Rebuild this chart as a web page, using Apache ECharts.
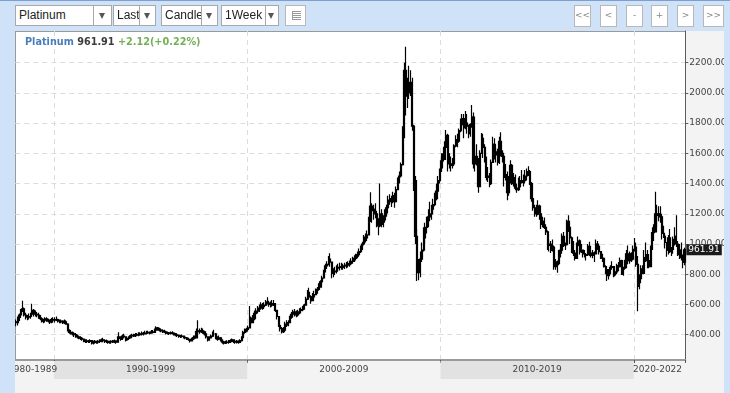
<!DOCTYPE html>
<html>
<head>
<meta charset="utf-8">
<script src="https://cdn.jsdelivr.net/npm/echarts@6.0.0/dist/echarts.min.js"></script>
<style>
html,body{margin:0;padding:0;width:730px;height:393px;overflow:hidden;background:#d0e2f7;position:relative;}
#topline{position:absolute;left:0;top:0;width:730px;height:1px;background:#7c9fcf;}
#frame{position:absolute;left:15px;top:31px;width:709px;height:362px;background:#f3f3f3;}
#plotbg{position:absolute;left:15px;top:31px;width:670px;height:329px;background:#fff;border-left:1px solid #9a9a9a;border-top:1px solid #9a9a9a;box-sizing:border-box;}
#chart{position:absolute;left:0;top:0;width:730px;height:393px;z-index:1;}
.cover{position:absolute;background:#d0e2f7;z-index:2;}
.sel{position:absolute;top:5px;height:21px;background:#fff;border:1px solid #a8a8a8;box-sizing:border-box;font:12px "Liberation Sans",Arial,sans-serif;color:#222;z-index:3;}
.sel .t{position:absolute;left:3px;top:0;line-height:19px;overflow:hidden;white-space:nowrap;}
.sel .s{position:absolute;top:0;bottom:0;width:0;border-left:1px solid #a8a8a8;}
.sel .a{position:absolute;top:7px;width:0;height:0;border-left:3.5px solid transparent;border-right:3.5px solid transparent;border-top:6px solid #555;}
.btn{position:absolute;top:5px;width:17px;height:22px;background:#fff;border:1px solid #b8b8b8;box-sizing:border-box;font:9px "DejaVu Sans",sans-serif;color:#888;text-align:center;line-height:19px;z-index:3;}
#icon{position:absolute;left:285px;top:5px;width:21px;height:21px;background:#fff;border:1px solid #b8b8b8;box-sizing:border-box;z-index:3;}
#icon div{position:absolute;left:6px;top:5px;width:8px;height:9px;background:repeating-linear-gradient(#999 0 1px,transparent 1px 2px);border-left:1px solid #999;}
</style>
</head>
<body>
<div id="topline"></div>
<div id="frame"></div>
<div id="plotbg"></div>
<div id="chart"></div>
<div class="cover" style="left:0;top:27px;width:15px;height:366px;"></div>
<div class="cover" style="left:724px;top:27px;width:6px;height:366px;"></div>

<div class="sel" style="left:15px;width:97px;"><span class="t" style="width:74px;">Platinum</span><span class="s" style="left:77px;"></span><span class="a" style="left:83px;"></span></div>
<div class="sel" style="left:113px;width:43px;"><span class="t" style="width:22px;">Last</span><span class="s" style="left:25px;"></span><span class="a" style="left:30px;"></span></div>
<div class="sel" style="left:161px;width:57px;"><span class="t" style="width:36px;">Candle</span><span class="s" style="left:39px;"></span><span class="a" style="left:44px;"></span></div>
<div class="sel" style="left:221px;width:58px;"><span class="t" style="width:40px;">1Week</span><span class="s" style="left:43px;"></span><span class="a" style="left:46px;"></span></div>
<div id="icon"><div></div></div>

<div class="btn" style="left:574px;">&lt;&lt;</div>
<div class="btn" style="left:600px;">&lt;</div>
<div class="btn" style="left:626px;">-</div>
<div class="btn" style="left:651px;">+</div>
<div class="btn" style="left:677px;">&gt;</div>
<div class="btn" style="left:703px;width:21px;">&gt;&gt;</div>

<script>
// ---------------- DATA (monthly candles) ----------------
const instrument = 'Platinum';
const lastPrice = 961.91;
const changeText = '+2.12(+0.22%)';
const startYear = 1988;           // first month shown: Jan 1988
const firstOpen = 485;

const decadeLabels = ['1980-1989', '1990-1999', '2000-2009', '2010-2019', '2020-2022'];
const decadeStartYears = [1980, 1990, 2000, 2010, 2020];
const decadeShaded = [false, true, false, true, false];
const yTickValues = [400, 600, 800, 1000, 1200, 1400, 1600, 1800, 2000, 2200];

const lows = [
  455,460,490,510,550,520,500,495,500,505,530,520, // 1988
  520,515,505,495,480,475,480,485,480,470,475,480, // 1989
  480,490,480,475,475,470,470,465,420,405,400,395, // 1990
  385,380,375,370,365,360,350,345,345,345,345,335, // 1991
  335,340,340,340,345,350,350,345,345,340,340,340, // 1992
  345,345,340,350,370,360,365,375,355,360,365,375, // 1993
  380,385,385,390,390,395,395,395,400,400,405,400, // 1994
  405,408,410,425,425,420,415,410,410,400,400,398, // 1995
  400,400,395,390,385,380,378,380,375,370,365,360, // 1996
  348,355,365,370,375,400,405,410,405,395,375,355, // 1997
  360,375,385,395,370,360,365,355,340,335,338,340, // 1998
  340,345,350,345,340,342,340,345,355,380,405,415, // 1999
  420,450,465,475,495,530,540,550,565,565,570,590, // 2000
  600,585,580,585,590,550,500,450,420,407,410,430, // 2001
  450,455,475,505,520,520,515,520,535,540,555,565, // 2002
  595,630,640,605,625,645,660,670,690,710,735,770, // 2003
  820,835,860,850,773,780,795,805,820,825,830,830, // 2004
  835,840,845,850,860,870,880,890,905,920,940,960, // 2005
  990,1010,1020,1060,1160,1140,1160,1170,1110,1058,1110,1110, // 2006
  1110,1140,1180,1230,1260,1245,1270,1240,1280,1355,1400,1440, // 2007
  1520,1700,1850,1900,1960,1980,1750,1350,1000,755,760,780, // 2008
  880,950,1000,1070,1110,1150,1160,1200,1250,1290,1330,1400, // 2009
  1480,1500,1560,1640,1480,1500,1480,1500,1530,1640,1640,1670, // 2010
  1740,1780,1700,1760,1730,1700,1710,1770,1500,1480,1520,1340, // 2011
  1380,1600,1570,1540,1420,1410,1375,1390,1540,1560,1540,1520, // 2012
  1530,1580,1540,1380,1420,1290,1320,1400,1390,1380,1355,1340, // 2013
  1350,1370,1400,1380,1400,1420,1450,1390,1280,1220,1180,1180, // 2014
  1190,1160,1100,1110,1100,1060,960,950,940,950,830,830, // 2015
  810,860,910,950,980,960,990,1080,1000,940,920,890, // 2016
  900,980,930,940,910,910,890,920,920,910,905,880, // 2017
  930,960,930,900,880,845,800,755,765,800,830,780, // 2018
  785,800,820,855,795,790,830,840,880,870,880,890, // 2019
  950,850,555,700,740,800,800,880,840,840,850,960, // 2020
  1020,1080,1110,1150,1140,1030,1040,970,915,930,940,920, // 2021
  935,990,980,920,900,890,840,860 // 2022
];
const highs = [
  500,520,540,570,625,580,545,530,540,545,605,570, // 1988
  560,550,545,530,515,505,515,515,505,500,510,515, // 1989
  515,520,505,500,500,495,500,495,475,435,430,420, // 1990
  415,410,400,395,390,385,375,370,370,365,370,362, // 1991
  360,365,360,365,370,375,380,370,368,362,360,362, // 1992
  365,368,362,390,415,390,400,405,390,385,390,400, // 1993
  405,405,410,410,415,415,420,418,425,425,425,420, // 1994
  430,430,440,455,450,445,440,435,432,425,420,418, // 1995
  420,422,415,410,405,400,398,400,395,390,385,380, // 1996
  372,380,395,395,440,495,440,445,440,425,410,385, // 1997
  390,400,420,432,410,390,395,385,370,360,360,362, // 1998
  365,370,375,370,362,365,362,370,390,425,440,445, // 1999
  460,590,520,530,560,575,590,600,615,610,615,630, // 2000
  648,625,620,630,630,610,565,520,470,450,450,485, // 2001
  495,495,525,550,565,570,560,565,575,580,590,605, // 2002
  650,695,710,660,675,690,705,715,740,760,790,830, // 2003
  870,885,920,938,870,840,850,860,870,875,875,870, // 2004
  875,880,885,890,905,915,925,935,950,970,990,1015, // 2005
  1060,1070,1090,1180,1343,1270,1260,1270,1220,1170,1400,1230, // 2006
  1190,1230,1260,1320,1330,1320,1345,1340,1380,1440,1480,1540, // 2007
  1780,2200,2306,2100,2180,2150,2100,1790,1450,1100,900,950, // 2008
  1010,1110,1140,1180,1230,1280,1260,1300,1340,1400,1450,1500, // 2009
  1600,1600,1680,1755,1730,1600,1580,1570,1660,1720,1730,1765, // 2010
  1830,1860,1860,1880,1860,1790,1800,1920,1870,1620,1660,1570, // 2011
  1620,1735,1730,1660,1580,1510,1470,1560,1710,1700,1640,1630, // 2012
  1710,1740,1620,1590,1530,1480,1450,1555,1530,1470,1460,1400, // 2013
  1440,1450,1490,1460,1490,1500,1515,1490,1410,1300,1260,1260, // 2014
  1290,1260,1200,1180,1175,1130,1090,1030,1020,1030,990,900, // 2015
  890,960,1000,1070,1080,1010,1160,1190,1110,1050,1020,960, // 2016
  1010,1050,1030,1000,960,960,940,1000,1015,950,960,950, // 2017
  1030,1020,1000,950,935,910,860,835,835,860,885,850, // 2018
  830,870,880,910,895,850,895,960,990,950,945,990, // 2019
  1040,1010,920,800,860,860,960,1010,960,900,990,1110, // 2020
  1130,1345,1260,1250,1250,1200,1120,1060,1010,1060,1100,980, // 2021
  1050,1110,1190,1020,1000,1010,930,975 // 2022
];
const closes = [
  480,505,530,555,570,530,520,515,520,535,560,540, // 1988
  535,530,515,505,490,495,505,495,490,485,500,495, // 1989
  500,500,490,485,490,480,485,470,430,415,410,405, // 1990
  400,390,385,380,375,370,360,355,358,355,360,345, // 1991
  348,355,350,355,360,365,360,355,355,350,352,355, // 1992
  352,358,350,375,385,370,390,385,365,375,380,392, // 1993
  395,392,400,398,400,405,408,405,410,415,412,410, // 1994
  418,415,430,445,435,430,425,420,418,410,412,408, // 1995
  412,410,405,398,395,390,388,390,382,378,372,368, // 1996
  358,372,380,378,420,425,420,425,418,405,385,365, // 1997
  378,390,405,405,385,370,378,365,350,345,350,348, // 1998
  355,360,365,355,350,355,348,360,380,415,425,435, // 1999
  445,510,480,505,540,555,560,575,595,585,595,615, // 2000
  610,600,595,605,600,560,520,460,440,420,430,470, // 2001
  465,480,515,535,550,545,530,550,560,565,580,595, // 2002
  635,680,650,625,650,665,690,700,715,750,775,815, // 2003
  855,865,900,880,805,815,820,840,845,850,845,855, // 2004
  855,860,865,870,885,895,905,920,930,950,975,1000, // 2005
  1045,1040,1060,1150,1250,1220,1230,1200,1150,1120,1200,1130, // 2006
  1160,1205,1240,1290,1300,1280,1320,1280,1360,1420,1450,1525, // 2007
  1720,2150,1980,2000,2070,2060,1780,1420,1050,810,830,900, // 2008
  960,1040,1110,1120,1180,1200,1230,1260,1300,1350,1420,1480, // 2009
  1550,1560,1640,1720,1560,1530,1520,1530,1650,1690,1680,1750, // 2010
  1790,1830,1770,1800,1780,1730,1790,1840,1530,1580,1560,1380, // 2011
  1600,1700,1640,1570,1440,1450,1400,1540,1660,1590,1610,1540, // 2012
  1680,1600,1580,1440,1460,1340,1420,1520,1400,1440,1370,1360, // 2013
  1380,1420,1410,1420,1450,1480,1480,1400,1300,1240,1210,1200, // 2014
  1250,1200,1130,1150,1110,1080,990,1000,960,980,850,880, // 2015
  870,940,960,1050,990,995,1150,1110,1040,960,940,905, // 2016
  990,1020,950,960,935,925,930,985,940,925,940,935, // 2017
  1000,985,950,925,905,850,830,790,820,845,850,795, // 2018
  815,855,850,890,800,840,870,935,890,935,900,965, // 2019
  980,865,720,770,835,805,910,930,890,850,965,1075, // 2020
  1080,1200,1190,1200,1180,1070,1050,1010,960,1040,950,965, // 2021
  1030,1050,1000,930,960,910,880,961.91 // 2022
];

// ---------------- BUILD ----------------
const N = closes.length;
const months = [];
for (let i = 0; i < N; i++) {
  const y = startYear + Math.floor(i / 12), m = (i % 12) + 1;
  months.push(y + '-' + (m < 10 ? '0' + m : m));
}
const opens = closes.map((c, i) => (i === 0 ? firstOpen : closes[i - 1]));
const candles = closes.map((c, i) => [opens[i], c, lows[i], highs[i]]);

const isDecadeStart = (idx, val) => {
  const v = String(val);
  return v.slice(5) === '01' && (+v.slice(0, 4)) % 10 === 0;
};

const bandData = decadeLabels.map((lab, k) => {
  const s = Math.max(0, (decadeStartYears[k] - startYear) * 12);
  const e = Math.min(N, (decadeStartYears[k] + 10 - startYear) * 12);
  return [
    { name: lab, xAxis: s, itemStyle: { color: decadeShaded[k] ? '#e2e2e2' : 'rgba(0,0,0,0)' },
      label: k === 0 ? { offset: [-2, 0] } : (k === decadeLabels.length - 1 ? { offset: [-2, 0] } : {}) },
    { xAxis: e }
  ];
});

const chart = echarts.init(document.getElementById('chart'), null, { renderer: 'canvas' });
const font = '"DejaVu Sans", Verdana, sans-serif';
chart.setOption({
  animation: false,
  backgroundColor: 'transparent',
  title: {
    left: 25, top: 37, padding: 0,
    text: '{a|' + instrument + '} {b|' + lastPrice.toFixed(2) + '} {c|' + changeText + '}',
    textStyle: {
      fontFamily: font, fontSize: 9.7, fontWeight: 'bold', lineHeight: 11,
      rich: {
        a: { color: '#4a7dbb', fontFamily: font, fontSize: 9.7, fontWeight: 'bold' },
        b: { color: '#3c3c3c', fontFamily: font, fontSize: 9.7, fontWeight: 'bold' },
        c: { color: '#74b055', fontFamily: font, fontSize: 9.7, fontWeight: 'bold' }
      }
    }
  },
  grid: [
    { left: 15.3, right: 44.7, top: 31, bottom: 33 },
    { left: 15.3, right: 44.7, top: 361, height: 18 }
  ],
  xAxis: [
    {
      type: 'category', gridIndex: 0, data: months, boundaryGap: true,
      axisLine: { show: true, onZero: false, lineStyle: { color: '#9b9b9b', width: 2 } },
      axisTick: { show: true, interval: isDecadeStart, length: 3, lineStyle: { color: '#555' } },
      axisLabel: { show: false },
      splitLine: { show: true, interval: isDecadeStart, lineStyle: { color: '#dcdcdc', type: [5, 4] } }
    },
    { type: 'value', gridIndex: 1, min: 0, max: N, show: false }
  ],
  yAxis: [
    {
      type: 'value', gridIndex: 0, position: 'right', min: 232, max: 2410,
      axisLine: { show: true, lineStyle: { color: '#5a5a5a' } },
      axisTick: { show: true, customValues: yTickValues, length: 3, lineStyle: { color: '#5a5a5a' } },
      axisLabel: { show: true, customValues: yTickValues, margin: 4, fontSize: 9, fontFamily: font, color: '#444',
        formatter: v => Number(v).toFixed(2) },
      splitLine: { show: true, lineStyle: { color: '#dcdcdc', type: [5, 4] } }
    },
    { type: 'value', gridIndex: 1, min: 0, max: 1, show: false }
  ],
  series: [
    {
      type: 'candlestick', name: instrument, xAxisIndex: 0, yAxisIndex: 0,
      data: candles, barWidth: '100%',
      itemStyle: { color: '#000', color0: '#000', borderColor: '#000', borderColor0: '#000', borderWidth: 1.2 },
      markLine: {
        silent: true, symbol: ['none', 'none'],
        lineStyle: { color: 'rgba(0,0,0,0)', width: 0 },
        label: { show: true, position: 'end', distance: 1, formatter: lastPrice.toFixed(2),
          color: '#fff', backgroundColor: '#1a1a1a', padding: [1, 2, 1, 2], fontSize: 9, fontFamily: font },
        data: [{ yAxis: lastPrice }]
      }
    },
    {
      type: 'scatter', xAxisIndex: 1, yAxisIndex: 1, data: [[0, 0]], symbolSize: 0, silent: true,
      markArea: {
        silent: true,
        label: { show: true, position: 'inside', color: '#444', fontSize: 9, fontFamily: font },
        data: bandData
      }
    }
  ]
});
</script>
</body>
</html>
